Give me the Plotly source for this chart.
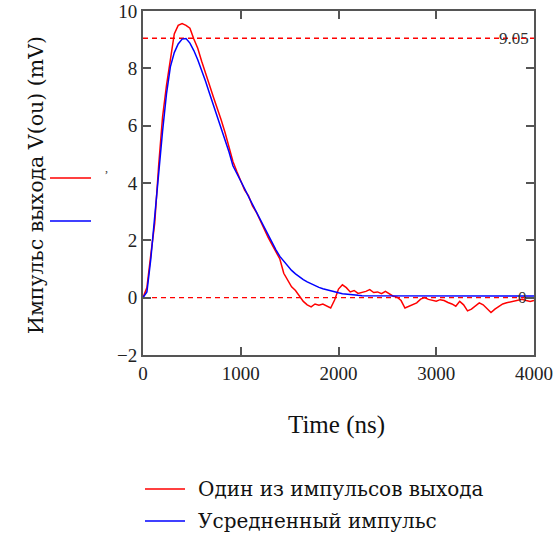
import plotly.graph_objects as go

# Sample times (ns), 40 ns step
time_ns = list(range(0, 4001, 40))

# Single output pulse (mV)
single_pulse = [
    0.0, 0.35, 1.5, 2.6, 4.6, 6.3, 7.4, 8.35, 9.2, 9.5,
    9.56, 9.5, 9.4, 9.02, 8.7, 8.25, 7.8, 7.42, 7.0, 6.62,
    6.2, 5.75, 5.2, 4.75, 4.4, 4.1, 3.75, 3.55, 3.2, 2.98,
    2.68, 2.4, 2.1, 1.85, 1.58, 1.35, 0.85, 0.6, 0.38, 0.25,
    0.05, -0.13, -0.25, -0.32, -0.22, -0.26, -0.22, -0.3, -0.36, -0.08,
    0.3, 0.45, 0.35, 0.2, 0.25, 0.15, 0.18, 0.22, 0.28, 0.18,
    0.2, 0.14, 0.22, 0.12, 0.05, 0.02, -0.1, -0.36, -0.3, -0.25,
    -0.18, -0.05, 0.0, -0.06, -0.1, -0.12, -0.07, -0.1, -0.17, -0.22,
    -0.3, -0.13, -0.25, -0.46, -0.4, -0.3, -0.18, -0.25, -0.38, -0.52,
    -0.4, -0.3, -0.22, -0.18, -0.15, -0.12, -0.1, -0.06, -0.1, -0.13,
    -0.1,
]

# Averaged pulse (mV)
averaged_pulse = [
    0.0, 0.2, 1.35, 2.8, 4.5, 5.8, 7.1, 8.05, 8.55, 8.85,
    9.02, 9.04, 8.88, 8.62, 8.3, 7.95, 7.55, 7.13, 6.73, 6.35,
    5.95, 5.56, 5.08, 4.6, 4.35, 4.07, 3.8, 3.52, 3.25, 3.0,
    2.72, 2.45, 2.17, 1.92, 1.67, 1.44, 1.27, 1.1, 0.95, 0.83,
    0.72, 0.63, 0.55, 0.48, 0.42, 0.36, 0.31, 0.27, 0.23, 0.2,
    0.17, 0.14, 0.12, 0.1, 0.09, 0.08, 0.07, 0.07, 0.07, 0.06,
    0.06, 0.06, 0.06, 0.06, 0.06, 0.06, 0.06, 0.06, 0.06, 0.06,
    0.06, 0.06, 0.06, 0.06, 0.06, 0.06, 0.06, 0.06, 0.06, 0.06,
    0.06, 0.06, 0.06, 0.06, 0.06, 0.06, 0.06, 0.06, 0.06, 0.06,
    0.06, 0.06, 0.06, 0.06, 0.06, 0.06, 0.06, 0.06, 0.06, 0.06,
    0.06,
]

series_names = ["Один из импульсов выхода", "Усредненный импульс"]
series_colors = ["#ff0000", "#0000ff"]

# Marker levels (mV)
peak_level = 9.05
zero_level = 0

x_ticks = [0, 1000, 2000, 3000, 4000]
y_ticks = [-2, 0, 2, 4, 6, 8, 10]

SERIF = "Liberation Serif"
CYR_SERIF = "DejaVu Serif"
AXIS = "#555555"

# Plot-area geometry in pixels (for placing side decorations)
W, H = 556, 536
L, R, T, B = 143, 22, 11, 181


def px(x):
    return (x - L) / (W - L - R)


def py(y):
    return (H - B - y) / (H - T - B)


fig = go.Figure()

for vals, name, col in zip((single_pulse, averaged_pulse), series_names, series_colors):
    fig.add_trace(go.Scatter(
        x=time_ns, y=vals, mode="lines",
        line=dict(color=col, width=1.5), name=name, showlegend=False,
    ))

# Dashed reference levels
for lvl in (peak_level, zero_level):
    fig.add_shape(type="line", xref="x", yref="y", x0=0, x1=4000, y0=lvl, y1=lvl,
                  line=dict(color="#ff0000", width=1.4, dash="5px,4px"), layer="below")

fig.add_annotation(x=4000, y=peak_level, xref="x", yref="y", text=f"{peak_level:.2f}",
                   showarrow=False, xanchor="right", yanchor="middle", xshift=-3,
                   font=dict(family=SERIF, size=17, color="#333333"))
fig.add_annotation(x=4000, y=zero_level, xref="x", yref="y", text=f"{zero_level}",
                   showarrow=False, xanchor="right", yanchor="middle", xshift=-5,
                   font=dict(family=SERIF, size=17, color="#333333"))

# Axis titles
fig.add_annotation(x=px(22), y=py(185), xref="paper", yref="paper",
                   text="Импульс выхода V(ou) (mV)", textangle=-90, showarrow=False,
                   font=dict(family=CYR_SERIF, size=20.5, color="#111111"))
fig.add_annotation(x=px(336), y=py(441), xref="paper", yref="paper",
                   text="Time (ns)", showarrow=False,
                   font=dict(family=SERIF, size=25, color="#111111"))

# Trace keys beside the vertical axis
for ypos, col in zip((178, 221), series_colors):
    fig.add_shape(type="line", xref="paper", yref="paper",
                  x0=px(50), x1=px(91), y0=py(ypos), y1=py(ypos),
                  line=dict(color=col, width=1.5))
fig.add_annotation(x=px(103), y=py(168), xref="paper", yref="paper", text=",",
                   showarrow=False, font=dict(family=SERIF, size=12, color="#333333"))

# Legend below the plot
for ypos, name, col in zip((489, 521), series_names, series_colors):
    fig.add_shape(type="line", xref="paper", yref="paper",
                  x0=px(145), x1=px(185), y0=py(ypos), y1=py(ypos),
                  line=dict(color=col, width=1.5))
    fig.add_annotation(x=px(196), y=py(ypos), xref="paper", yref="paper",
                       text=name, showarrow=False, xanchor="left", yanchor="middle",
                       font=dict(family=CYR_SERIF, size=20, color="#111111"))

axis_common = dict(ticks="inside", ticklen=8, tickwidth=2, tickcolor=AXIS,
                   showline=True, linecolor=AXIS, linewidth=2, mirror="ticks",
                   showgrid=False, zeroline=False, automargin=False,
                   tickfont=dict(family=SERIF, size=19, color="#222222"))

fig.update_layout(
    width=W, height=H,
    margin=dict(l=L, r=R, t=T, b=B, autoexpand=False),
    paper_bgcolor="white", plot_bgcolor="white",
    font=dict(family=SERIF, size=18, color="#222222"),
    showlegend=False,
    xaxis=dict(range=[0, 4000], tickvals=x_ticks, **axis_common),
    yaxis=dict(range=[-2, 10], tickvals=y_ticks, **axis_common),
)

fig.write_html("out.html")
